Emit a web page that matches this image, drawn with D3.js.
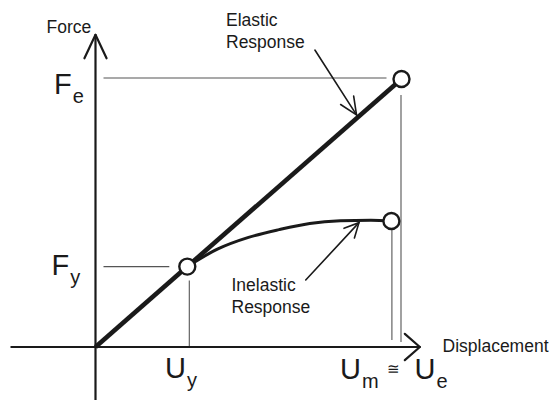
<!DOCTYPE html>
<html>
<head>
<meta charset="utf-8">
<script src="https://cdn.jsdelivr.net/npm/d3@7"></script>
<style>
  html, body { margin: 0; padding: 0; background: #fff; }
  svg { display: block; }
  text { font-family: "Liberation Sans", Arial, Helvetica, sans-serif; fill: #1a1a1a; }
</style>
</head>
<body>
<svg id="chart" width="550" height="400"></svg>
<script>
// Force–displacement response: elastic vs. inelastic (normalised units, Fe = Ue = 1)
const elasticU = [0, 0.30, 1.00];
const elasticF = [0, 0.30, 1.00];
const inelasticU = [0.30, 0.40, 0.50, 0.60, 0.70, 0.80, 0.90, 0.967];
const inelasticF = [0.30, 0.366, 0.409, 0.438, 0.461, 0.471, 0.473, 0.470];
const markedU = [0.30, 0.967, 1.00];      // Uy, Um, Ue
const markedF = [0.30, 1.00];             // Fy, Fe
const axisTitles = ["Displacement", "Force"];
const responseLabels = [["Elastic", "Response"], ["Inelastic", "Response"]];

const svg = d3.select("#chart");
const x = d3.scaleLinear().domain([0, 1]).range([95.5, 401.5]);
const y = d3.scaleLinear().domain([0, 1]).range([347, 79]);

const ink = "#1a1a1a";

// thin guide lines to the marked points
const guides = svg.append("g").attr("stroke", "#555").attr("stroke-width", 1.1);
guides.append("line")   // Fe
  .attr("x1", x(0) + 8).attr("x2", x(markedU[2]) - 15)
  .attr("y1", y(markedF[1]) - 1).attr("y2", y(markedF[1]) - 1);
guides.append("line")   // Fy
  .attr("x1", x(0) + 8).attr("x2", x(markedU[0]) - 18)
  .attr("y1", y(markedF[0])).attr("y2", y(markedF[0]));
guides.append("line")   // Uy
  .attr("x1", x(markedU[0]) + 2).attr("x2", x(markedU[0]) + 2)
  .attr("y1", y(markedF[0]) + 14).attr("y2", y(0) - 1);
guides.append("line")   // Um
  .attr("x1", x(markedU[1]) + 0.5).attr("x2", x(markedU[1]) + 0.5)
  .attr("y1", y(0.47) + 9).attr("y2", y(0) - 7);
guides.append("line")   // Ue
  .attr("x1", x(markedU[2]) - 0.5).attr("x2", x(markedU[2]) - 0.5)
  .attr("y1", y(markedF[1]) + 16).attr("y2", y(0) - 5);

// axes with open arrow heads
const axes = svg.append("g").attr("stroke", ink).attr("stroke-width", 2.2)
  .attr("fill", "none").attr("stroke-linecap", "round").attr("stroke-linejoin", "round");
const xEnd = x(1.06), yEnd = y(1.165);
axes.append("line").attr("x1", x(-0.275)).attr("x2", xEnd).attr("y1", y(0)).attr("y2", y(0));
axes.append("line").attr("x1", x(0)).attr("x2", x(0)).attr("y1", 402).attr("y2", yEnd);

function arrowHead(g, tx, ty, angle, spread, len) {
  const a1 = angle + Math.PI - spread, a2 = angle + Math.PI + spread;
  g.append("path").attr("d",
    `M${tx + len * Math.cos(a1)},${ty + len * Math.sin(a1)}L${tx},${ty}L${tx + len * Math.cos(a2)},${ty + len * Math.sin(a2)}`);
}
arrowHead(axes, xEnd, y(0), 0, 0.72, 20);
arrowHead(axes, x(0), yEnd, -Math.PI / 2, 0.44, 26);

// elastic response
const line = d3.line().x(d => x(d[0])).y(d => y(d[1]));
svg.append("path")
  .datum(elasticU.map((u, i) => [u, elasticF[i]]))
  .attr("d", line).attr("fill", "none").attr("stroke", ink).attr("stroke-width", 4.6);

// inelastic response
svg.append("path")
  .datum(inelasticU.map((u, i) => [u, inelasticF[i]]))
  .attr("d", line.curve(d3.curveMonotoneX))
  .attr("fill", "none").attr("stroke", ink).attr("stroke-width", 3);

// open markers: yield, maximum inelastic, maximum elastic
const markers = [[markedU[0], markedF[0]], [markedU[1], inelasticF[inelasticF.length - 1]], [markedU[2], markedF[1]]];
svg.append("g").selectAll("circle").data(markers).join("circle")
  .attr("cx", d => x(d[0])).attr("cy", d => y(d[1])).attr("r", 8)
  .attr("fill", "#fff").attr("stroke", ink).attr("stroke-width", 2.4);

// annotation arrows
const notes = svg.append("g").attr("stroke", ink).attr("stroke-width", 1.6)
  .attr("fill", "none").attr("stroke-linecap", "round");
function pointer(from, to, spread, len) {
  const x1 = x(from[0]), y1 = y(from[1]), x2 = x(to[0]), y2 = y(to[1]);
  notes.append("line").attr("x1", x1).attr("y1", y1).attr("x2", x2).attr("y2", y2);
  arrowHead(notes, x2, y2, Math.atan2(y2 - y1, x2 - x1), spread, len);
}
pointer([0.717, 1.108], [0.853, 0.866], 0.42, 19);
pointer([0.687, 0.250], [0.861, 0.464], 0.46, 16);

// response labels
const small = 17.5;
function block(lines, lx, ly) {
  const t = svg.append("text").attr("font-size", small);
  lines.forEach((s, i) => t.append("tspan").attr("x", lx).attr("y", ly + i * 22).text(s));
}
block(responseLabels[0], 226, 26);
block(responseLabels[1], 231.5, 291);

// axis titles
svg.append("text").attr("font-size", small).attr("x", 442.5).attr("y", 352).text(axisTitles[0]);
svg.append("text").attr("font-size", small).attr("x", 46.5).attr("y", 33).text(axisTitles[1]);

// symbol labels with subscripts
function symbol(main, sub, lx, ly) {
  const t = svg.append("text").attr("x", lx).attr("y", ly).attr("font-size", 29);
  t.append("tspan").text(main);
  t.append("tspan").attr("font-size", 20).attr("dy", 9).attr("dx", 1).text(sub);
}
symbol("F", "e", 54, y(markedF[1]) + 15);
symbol("F", "y", 51.5, y(markedF[0]) + 8.5);
symbol("U", "y", 165, y(0) + 31);
symbol("U", "m", 340, y(0) + 32);
symbol("U", "e", 414.5, y(0) + 32);
svg.append("text").attr("x", 386.5).attr("y", y(0) + 27).attr("font-size", 15)
  .attr("font-family", "DejaVu Sans").text("\u2245");
</script>
</body>
</html>
